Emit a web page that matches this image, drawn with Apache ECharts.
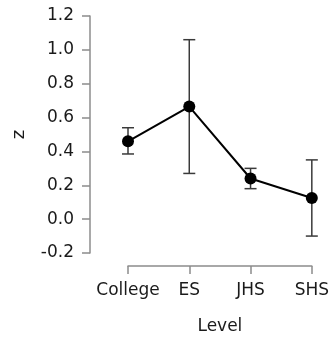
<!DOCTYPE html>
<html>
<head>
<meta charset="utf-8">
<script src="https://cdn.jsdelivr.net/npm/echarts@6/dist/echarts.min.js"></script>
<style>
  html, body { margin: 0; padding: 0; background: #fff; }
  #chart { width: 332px; height: 340px; }
</style>
</head>
<body>
<div id="chart"></div>
<script>
const levels = ['College', 'ES', 'JHS', 'SHS'];
const means = [0.46, 0.665, 0.24, 0.125];
const upper = [0.54, 1.06, 0.30, 0.35];
const lower = [0.385, 0.27, 0.18, -0.10];
const yTicks = [-0.2, 0.0, 0.2, 0.4, 0.6, 0.8, 1.0, 1.2];

const axisColor = '#8c8c8c';
const textColor = '#1a1a1a';
const font = 'DejaVu Sans';

const chart = echarts.init(document.getElementById('chart'));

// error bars: vertical line + two caps
function renderErrorBar(params, api) {
  const i = api.value(0);
  const hi = api.coord([i, api.value(1)]);
  const lo = api.coord([i, api.value(2)]);
  const w = 6;
  const style = { stroke: '#3a3a3a', lineWidth: 1.5 };
  return {
    type: 'group',
    children: [
      { type: 'line', shape: { x1: hi[0], y1: hi[1], x2: lo[0], y2: lo[1] }, style },
      { type: 'line', shape: { x1: hi[0] - w, y1: hi[1], x2: hi[0] + w, y2: hi[1] }, style },
      { type: 'line', shape: { x1: lo[0] - w, y1: lo[1], x2: lo[0] + w, y2: lo[1] }, style },
    ],
  };
}

chart.setOption({
  animation: false,
  grid: { left: 128, right: 20, top: 16, bottom: 82 },
  xAxis: {
    type: 'category',
    data: levels,
    boundaryGap: false,
    offset: 13,
    name: 'Level',
    nameLocation: 'middle',
    nameGap: 52,
    nameTextStyle: { color: textColor, fontFamily: font, fontSize: 17 },
    axisLine: { show: true, onZero: false, lineStyle: { color: axisColor, width: 1.5 } },
    axisTick: { show: true, length: 8, alignWithLabel: true, lineStyle: { color: axisColor, width: 1.5 } },
    axisLabel: { color: textColor, fontFamily: font, fontSize: 17, margin: 16, interval: 0 },
    splitLine: { show: false },
  },
  yAxis: {
    type: 'value',
    min: yTicks[0],
    max: yTicks[yTicks.length - 1],
    interval: 0.2,
    offset: 38,
    name: 'z',
    nameLocation: 'middle',
    nameGap: 62,
    nameRotate: 90,
    nameTextStyle: { color: textColor, fontFamily: font, fontSize: 18 },
    axisLine: { show: true, lineStyle: { color: axisColor, width: 1.5 } },
    axisTick: { show: true, length: 8, lineStyle: { color: axisColor, width: 1.5 } },
    axisLabel: {
      color: textColor, fontFamily: font, fontSize: 17, margin: 16,
      formatter: (v) => v.toFixed(1),
    },
    splitLine: { show: false },
  },
  series: [
    {
      type: 'custom',
      renderItem: renderErrorBar,
      clip: false,
      data: levels.map((_, i) => [i, upper[i], lower[i]]),
      z: 1,
    },
    {
      type: 'line',
      data: means,
      symbol: 'circle',
      symbolSize: 12,
      lineStyle: { color: '#000', width: 2 },
      itemStyle: { color: '#000' },
      z: 2,
    },
  ],
});
</script>
</body>
</html>
